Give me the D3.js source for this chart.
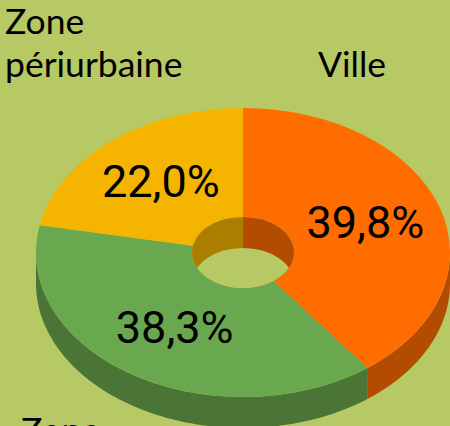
<!DOCTYPE html>
<html><head><meta charset="utf-8">
<script src="https://cdn.jsdelivr.net/npm/d3@7"></script>
<style>html,body{margin:0;padding:0;overflow:hidden;background:#b6c964}svg{display:block}</style>
</head><body><svg id="c" width="450" height="426"></svg>
<script>
const categories = ["Ville", "Zone urbaine", "Zone périurbaine"];
const values = [39.8, 38.3, 22.0];
const valueLabels = ["39,8%", "38,3%", "22,0%"];
const colors = ["#ff6d00", "#6aa84f", "#f4b400"];
const darkColors = ["#b34c00", "#4a7537", "#ab7e00"];

const W = 450, H = 426, cx = 243, cy = 252.5, rx = 207, ry = 144.5, hole = 51, depth = 31, bg = "#b6c964";
const k = ry / rx;
const svg = d3.select("#c");
svg.append("rect").attr("width", W).attr("height", H).attr("fill", bg);
const defs = svg.append("defs");
const pie = d3.pie().sort(null).value(d => d);
const slices = pie(values);
const arc = d3.arc().innerRadius(hole).outerRadius(rx);
const root = svg.append("g").attr("transform", `translate(${cx},${cy})`);

// outer wall
const wallLine = d3.line();
const pt = (a, off) => [rx * Math.sin(a), -rx * k * Math.cos(a) + off];
slices.forEach((s, i) => {
  const a0 = Math.max(s.startAngle, Math.PI / 2), a1 = Math.min(s.endAngle, 3 * Math.PI / 2);
  if (a1 <= a0) return;
  const steps = d3.range(0, 121).map(j => a0 + (a1 - a0) * j / 120);
  const pts = steps.map(a => pt(a, 0)).concat(steps.slice().reverse().map(a => pt(a, depth)));
  root.append("path").attr("d", wallLine(pts) + "Z").attr("fill", darkColors[i]);
});

// top face
const face = root.append("g").attr("transform", `scale(1,${k})`);
slices.forEach((s, i) => {
  face.append("path").attr("d", arc(s)).attr("fill", colors[i]);
});

// hole: inner wall seen through the opening, then the background below it
defs.append("clipPath").attr("id", "holeClip").append("ellipse")
  .attr("rx", hole).attr("ry", hole * k);
const inner = root.append("g").attr("clip-path", "url(#holeClip)");
const halfArc = d3.arc().innerRadius(0).outerRadius(hole + 1);
const holeFace = inner.append("g").attr("transform", `scale(1,${k})`);
holeFace.append("path").attr("fill", darkColors[0])
  .attr("d", halfArc({startAngle: 0, endAngle: Math.PI}));
holeFace.append("path").attr("fill", darkColors[2])
  .attr("d", halfArc({startAngle: Math.PI, endAngle: 2 * Math.PI}));
inner.append("ellipse").attr("cy", depth).attr("rx", hole).attr("ry", hole * k).attr("fill", bg);

// value labels at slice centroids
slices.forEach((s, i) => {
  const [x, y] = arc.centroid(s);
  root.append("text").attr("x", x).attr("y", y * k - 2).attr("dy", "0.36em")
    .attr("text-anchor", "middle").attr("font-family", "Roboto").attr("font-size", 45)
    .attr("fill", "#000").text(valueLabels[i]);
});

// category labels
const lab = (t, x, y) => svg.append("text").attr("x", x).attr("y", y)
  .attr("font-family", "Lato").attr("font-size", 35.5).attr("fill", "#000").text(t);
lab("Zone", 5, 34);
lab("périurbaine", 5, 77);
lab("Ville", 318, 77);
lab("Zone", 21, 443);
</script></body></html>
